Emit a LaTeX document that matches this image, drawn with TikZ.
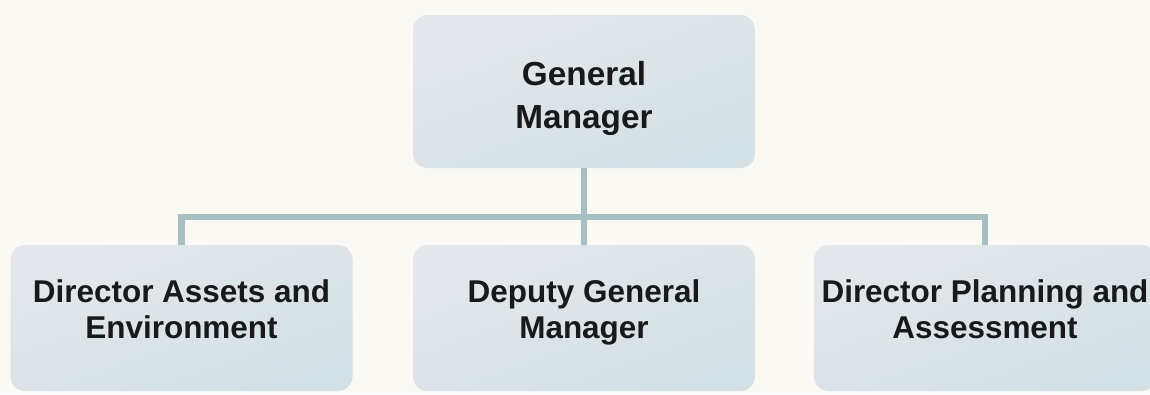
\documentclass[tikz,border=0pt]{standalone}
\usepackage{fontspec}
\setmainfont{Liberation Sans}
\begin{document}
\begin{tikzpicture}[x=0.75pt,y=-0.75pt,
  paper/.style={fill=paperbg,draw=none},
  orgbox/.style={rectangle,rounded corners=11pt,draw=none,
    top color=boxtop,bottom color=boxbot,shading angle=20,
    minimum width=256.5pt,inner sep=0pt},
  topbox/.style={orgbox,minimum height=114.75pt},
  subbox/.style={orgbox,minimum height=109.5pt},
  toplbl/.style={align=center,text=inkdark,inner sep=0pt,
    font=\bfseries\fontsize{25}{32.25}\selectfont},
  sublbl/.style={align=center,text=inkdark,inner sep=0pt,
    font=\bfseries\fontsize{23.6}{27}\selectfont},
  link/.style={draw=linkcol,line width=5.2pt,line join=miter}]
\definecolor{paperbg}{HTML}{FAF9F4}
\definecolor{boxtop}{HTML}{E4E7EB}
\definecolor{boxbot}{HTML}{D3E0E5}
\definecolor{inkdark}{HTML}{17191B}
\definecolor{linkcol}{HTML}{A9BEC0}

% canvas
\path[paper] (0,0) rectangle (1150,394);
\useasboundingbox (0,0) rectangle (1150,394);

% boxes
\node[topbox] (gm)   at (584,91.5) {};
\node[subbox] (dae)  at (181.5,318) {};
\node[subbox] (dgm)  at (584,318) {};
\node[subbox] (dpa)  at (985,318) {};

% labels (struts keep every line on the same baseline grid)
\node[toplbl] (gmt)  at (584,97.9)  {General\strut\\Manager\strut};
\node[sublbl] (daet) at (181.5,312.8) {Director Assets and\strut\\Environment\strut};
\node[sublbl] (dgmt) at (584,312.8) {Deputy General\strut\\Manager\strut};
\node[sublbl] (dpat) at (985,312.8) {Director Planning and\strut\\Assessment\strut};

% connectors
\coordinate (bus) at (584,217);
\draw[link] (gm.south) -- (dgm.north);
\draw[link] (dae.north) |- (bus) -| (dpa.north);
\end{tikzpicture}
\end{document}
